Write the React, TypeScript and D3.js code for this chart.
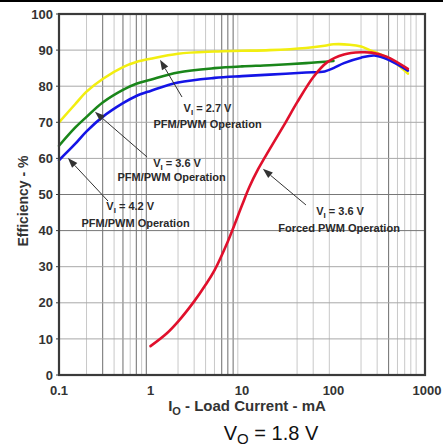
import React from "react";
import * as d3 from "d3";

// ---------- data ----------
const xTicks = [0.1, 1, 10, 100, 1000];
const xTickLabels = ["0.1", "1", "10", "100", "1000"];
const yTicks = [0, 10, 20, 30, 40, 50, 60, 70, 80, 90, 100];
const darkMinor = [0.3, 0.5, 0.7, 0.9, 6, 7, 8, 400];
const lightMinor = [0.2, 0.4, 0.6, 0.8, 2, 3, 4, 5, 9, 40, 60, 90, 200, 300, 500, 600, 700, 800];
const darkH = [40, 50];

const curY27 = [0.1, 0.15, 0.2, 0.3, 0.5, 0.7, 1, 2, 5, 10, 20, 50, 80, 100, 150, 200, 250, 300, 400, 500, 650];
const effY27 = [70, 75, 78.5, 82, 85.3, 86.7, 87.6, 89, 89.6, 89.8, 90, 90.6, 91.2, 91.6, 91.5, 91, 90, 89.2, 87.8, 86, 83.5];

const curG36 = [0.1, 0.15, 0.2, 0.3, 0.5, 0.7, 1, 2, 5, 10, 20, 50, 100];
const effG36 = [63.5, 68.5, 71.5, 75.5, 79, 80.7, 81.8, 83.8, 85, 85.5, 85.8, 86.4, 87];

const curB42 = [0.1, 0.15, 0.2, 0.3, 0.5, 0.7, 1, 2, 5, 10, 20, 50, 80, 100, 130, 200, 280, 400, 650];
const effB42 = [59.5, 64, 67.5, 71.5, 75.3, 77.3, 78.7, 81, 82.3, 82.8, 83.2, 83.8, 84.1, 85, 86.4, 87.9, 88.5, 87.3, 84.3];

const curR36 = [1, 1.5, 2, 3, 4, 5, 7, 10, 12, 15, 20, 30, 40, 60, 85, 130, 200, 260, 380, 650];
const effR36 = [8, 11.5, 14.8, 20.4, 25, 29, 37, 47, 52, 57, 62.5, 70, 75.5, 82.5, 86.6, 88.8, 89.4, 89.3, 88.2, 84.8];

// annotations: [tipCurrent, tipEff, tailCurrent, tailEff]
const arrows = [
  [1.27, 87.3, 2.21, 77.0],
  [0.247, 72.9, 0.917, 60.4],
  [0.125, 60.1, 0.343, 48.2],
  [16.9, 57.1, 50, 47.1],
];
// label lines: [current, efficiency, text]
const labelV = [
  [4.2, 72.9, "2.7"],
  [1.95, 57.6, "3.6"],
  [0.6, 45.7, "4.2"],
  [118, 44.3, "3.6"],
];
const labelMode = [
  [4.2, 68.4, "PFM/PWM Operation"],
  [1.7, 53.7, "PFM/PWM Operation"],
  [0.686, 41.0, "PFM/PWM Operation"],
  [115, 39.6, "Forced PWM Operation"],
];

const series = [
  { cur: curY27, eff: effY27, color: "#f2ee10" },
  { cur: curG36, eff: effG36, color: "#1a861a" },
  { cur: curB42, eff: effB42, color: "#1414e6" },
  { cur: curR36, eff: effR36, color: "#e0102c" },
];

const FONT = "'Liberation Sans', Arial, Helvetica, sans-serif";

export default function App() {
  const W = 443, H = 448;
  const L = 59, R = 425, T = 14, B = 375;
  const x = d3.scaleLog().domain([0.1, 1000]).range([L, R]);
  const y = d3.scaleLinear().domain([0, 100]).range([B, T]);
  const line = d3
    .line<[number, number]>()
    .x((d) => x(d[0]))
    .y((d) => y(d[1]))
    .curve(d3.curveCatmullRom.alpha(0.5));

  const arrowEls = arrows.map((a, i) => {
    const tx = x(a[0]), ty = y(a[1]), sx = x(a[2]), sy = y(a[3]);
    const ang = Math.atan2(ty - sy, tx - sx);
    const len = 10, hw = 3.6;
    const bx = tx - len * Math.cos(ang), by = ty - len * Math.sin(ang);
    const px = -Math.sin(ang), py = Math.cos(ang);
    const pts = `${tx},${ty} ${bx + hw * px},${by + hw * py} ${bx - hw * px},${by - hw * py}`;
    return (
      <g key={"a" + i}>
        <line x1={sx} y1={sy} x2={bx} y2={by} stroke="#333" strokeWidth={1} />
        <polygon points={pts} fill="#333" />
      </g>
    );
  });

  return (
    <svg
      width={W}
      height={H}
      style={{ position: "absolute", left: 0, top: 0, background: "#fff" }}
      fontFamily={FONT}
    >
      <rect x={0} y={0} width={W} height={H} fill="#fff" />
      <line x1={0} x2={W} y1={1} y2={1} stroke="#000" strokeWidth={2} />

      {/* grid */}
      {lightMinor.map((v) => (
        <line key={"lm" + v} x1={x(v)} x2={x(v)} y1={T} y2={B} stroke="#c8c8c8" strokeWidth={1} />
      ))}
      {darkMinor.map((v) => (
        <line key={"dm" + v} x1={x(v)} x2={x(v)} y1={T} y2={B} stroke="#7a7a7a" strokeWidth={1.1} />
      ))}
      {yTicks.slice(1, -1).map((v) => (
        <line
          key={"h" + v}
          x1={L}
          x2={R}
          y1={y(v)}
          y2={y(v)}
          stroke={darkH.includes(v) ? "#777" : "#a8a8a8"}
          strokeWidth={1}
        />
      ))}

      {/* curves */}
      {series.map((s, i) => (
        <path
          key={"s" + i}
          d={line(s.cur.map((c, j) => [c, s.eff[j]] as [number, number])) || ""}
          fill="none"
          stroke={s.color}
          strokeWidth={2.6}
          strokeLinejoin="round"
          strokeLinecap="round"
        />
      ))}

      {/* frame */}
      <rect x={L} y={T} width={R - L} height={B - T} fill="none" stroke="#3a3a3a" strokeWidth={2.2} />
      {yTicks.map((v) => (
        <line key={"yt" + v} x1={L - 3} x2={L} y1={y(v)} y2={y(v)} stroke="#3a3a3a" strokeWidth={1} />
      ))}

      {/* tick labels */}
      {yTicks.map((v) => (
        <text
          key={"yl" + v}
          x={L - 6}
          y={y(v)}
          dy="0.36em"
          textAnchor="end"
          fontSize={13}
          fontWeight="bold"
          fill="#333"
        >
          {v}
        </text>
      ))}
      {xTicks.map((v, i) => (
        <text
          key={"xl" + v}
          x={x(v) + (i === xTicks.length - 1 ? 2 : 0)}
          y={395}
          textAnchor="middle"
          fontSize={13}
          fontWeight="bold"
          fill="#333"
        >
          {xTickLabels[i]}
        </text>
      ))}

      {/* axis titles */}
      <text
        transform={`translate(28, 201) rotate(-90)`}
        textAnchor="middle"
        fontSize={14}
        fontWeight="bold"
        fill="#333"
      >
        Efficiency - %
      </text>
      <text x={247} y={411} textAnchor="middle" fontSize={15} fontWeight="bold" fill="#333">
        I<tspan fontSize={11} dy={4}>O</tspan>
        <tspan dy={-4}> - Load Current - mA</tspan>
      </text>
      <text x={271} y={440} textAnchor="middle" fontSize={20} fill="#111">
        V<tspan fontSize={15} dy={4}>O</tspan>
        <tspan dy={-4}> = 1.8 V</tspan>
      </text>

      {/* annotations */}
      {arrowEls}
      {labelV.map((l, i) => (
        <text
          key={"lv" + i}
          x={x(l[0] as number)}
          y={y(l[1] as number)}
          textAnchor="middle"
          fontSize={11}
          fontWeight="bold"
          fill="#2a2a2a"
        >
          V<tspan fontSize={8} dy={3}>I</tspan>
          <tspan dy={-3}>{" = " + l[2] + " V"}</tspan>
        </text>
      ))}
      {labelMode.map((l, i) => (
        <text
          key={"lm" + i}
          x={x(l[0] as number)}
          y={y(l[1] as number)}
          textAnchor="middle"
          fontSize={11}
          fontWeight="bold"
          fill="#2a2a2a"
        >
          {l[2]}
        </text>
      ))}
    </svg>
  );
}
